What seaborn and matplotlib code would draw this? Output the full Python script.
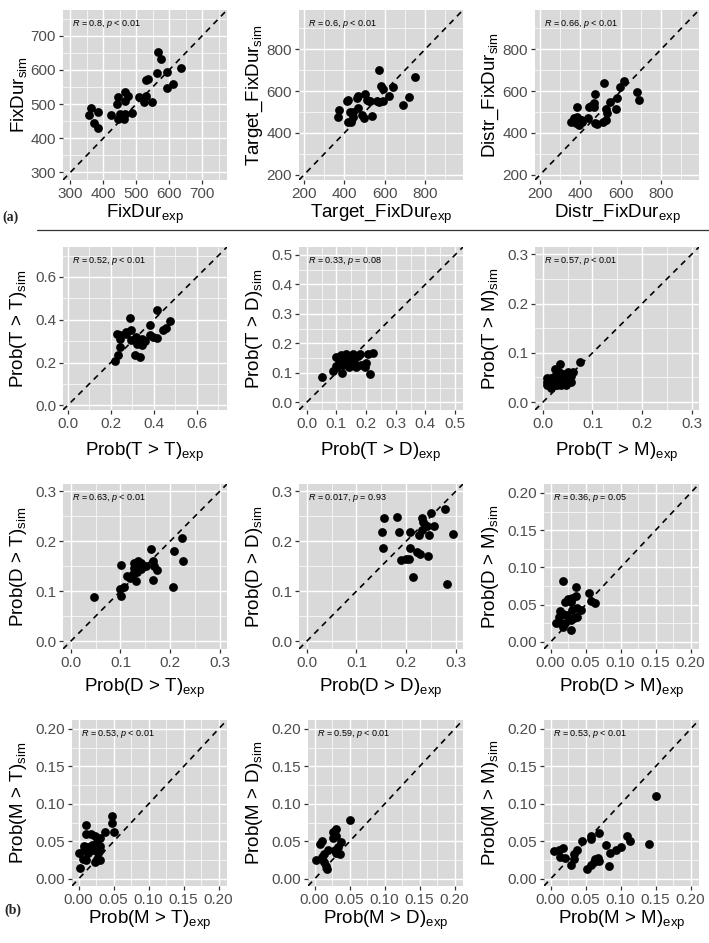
import numpy as np
import pandas as pd
import matplotlib
matplotlib.use("Agg")
import matplotlib.pyplot as plt
import seaborn as sns
from matplotlib.lines import Line2D
from matplotlib.ticker import MultipleLocator, FormatStrFormatter

# --- data (exp on x, sim on y) ---
fixdur_exp = [566, 574, 562, 594, 635, 594, 610, 530, 536, 548, 530, 507, 524, 466, 476,
              446, 443, 466, 422, 451, 487, 466, 463, 446, 362, 356, 384, 372, 384, 458]
fixdur_sim = [653, 631, 592, 595, 605, 547, 558, 571, 573, 505, 525, 520, 505, 534, 525,
              520, 499, 510, 469, 472, 473, 471, 457, 455, 489, 467, 476, 445, 430, 462]

target_exp = [572, 749, 581, 589, 641, 623, 718, 692, 500, 461, 469, 418, 414, 512, 520,
              529, 563, 589, 574, 469, 371, 366, 426, 443, 486, 495, 443, 538, 418, 435]
target_sim = [703, 666, 623, 612, 618, 578, 572, 535, 586, 567, 575, 559, 555, 559, 551,
              551, 551, 555, 546, 519, 510, 478, 502, 498, 486, 473, 478, 482, 451, 454]

distr_exp = [615, 598, 683, 691, 515, 474, 581, 546, 578, 529, 533, 526, 512, 474, 481,
             469, 451, 443, 466, 438, 401, 381, 355, 376, 389, 401, 367, 384, 393, 410]
distr_sim = [647, 620, 596, 556, 639, 588, 567, 548, 515, 515, 494, 462, 454, 446, 441,
             543, 531, 522, 523, 470, 462, 522, 454, 446, 457, 462, 470, 478, 438, 450]

tt_exp = [0.413, 0.288, 0.475, 0.382, 0.455, 0.444, 0.229, 0.242, 0.273, 0.296, 0.319, 0.343,
          0.397, 0.413, 0.382, 0.358, 0.335, 0.346, 0.320, 0.242, 0.296, 0.245, 0.312, 0.335,
          0.234, 0.218, 0.270]
tt_sim = [0.446, 0.408, 0.392, 0.377, 0.363, 0.351, 0.335, 0.328, 0.343, 0.351, 0.320, 0.309,
          0.320, 0.315, 0.328, 0.300, 0.289, 0.282, 0.285, 0.309, 0.305, 0.274, 0.235, 0.228,
          0.235, 0.208, 0.335]

td_exp = [0.053, 0.089, 0.119, 0.098, 0.115, 0.121, 0.132, 0.144, 0.155, 0.172, 0.180, 0.110,
          0.121, 0.138, 0.149, 0.161, 0.141, 0.166, 0.183, 0.195, 0.200, 0.206, 0.225, 0.212,
          0.098, 0.127]
td_sim = [0.085, 0.106, 0.101, 0.153, 0.161, 0.148, 0.164, 0.158, 0.164, 0.156, 0.164, 0.142,
          0.126, 0.131, 0.142, 0.137, 0.120, 0.120, 0.126, 0.120, 0.134, 0.164, 0.168, 0.096,
          0.123, 0.139]

tm_exp = [0.074, 0.034, 0.024, 0.009, 0.017, 0.024, 0.034, 0.040, 0.051, 0.061, 0.057, 0.051,
          0.046, 0.057, 0.030, 0.040, 0.009, 0.017, 0.024, 0.009, 0.017, 0.029, 0.037, 0.047,
          0.032, 0.020]
tm_sim = [0.082, 0.078, 0.068, 0.049, 0.048, 0.053, 0.051, 0.058, 0.061, 0.062, 0.053, 0.048,
          0.043, 0.040, 0.041, 0.038, 0.035, 0.032, 0.035, 0.041, 0.028, 0.034, 0.035, 0.034,
          0.062, 0.041]

dt_exp = [0.047, 0.101, 0.099, 0.108, 0.102, 0.113, 0.120, 0.125, 0.131, 0.134, 0.128, 0.136,
          0.142, 0.152, 0.162, 0.165, 0.167, 0.174, 0.165, 0.206, 0.209, 0.224, 0.227, 0.142,
          0.127]
dt_sim = [0.089, 0.091, 0.104, 0.109, 0.152, 0.131, 0.127, 0.135, 0.121, 0.139, 0.157, 0.160,
          0.157, 0.150, 0.184, 0.160, 0.150, 0.142, 0.122, 0.109, 0.181, 0.206, 0.160, 0.144,
          0.147]

dd_exp = [0.155, 0.181, 0.152, 0.185, 0.153, 0.208, 0.189, 0.199, 0.206, 0.209, 0.223, 0.229,
          0.244, 0.214, 0.233, 0.251, 0.278, 0.234, 0.238, 0.243, 0.233, 0.256, 0.246, 0.295,
          0.283, 0.226]
dd_sim = [0.246, 0.249, 0.218, 0.218, 0.187, 0.219, 0.162, 0.164, 0.164, 0.187, 0.179, 0.175,
          0.171, 0.128, 0.246, 0.257, 0.264, 0.239, 0.233, 0.231, 0.222, 0.231, 0.213, 0.215,
          0.114, 0.213]

dm_exp = [0.018, 0.036, 0.055, 0.057, 0.064, 0.036, 0.031, 0.025, 0.020, 0.029, 0.038, 0.044,
          0.031, 0.013, 0.017, 0.012, 0.024, 0.029, 0.038, 0.007, 0.014, 0.021, 0.018, 0.029,
          0.033]
dm_sim = [0.082, 0.074, 0.066, 0.055, 0.052, 0.062, 0.059, 0.057, 0.054, 0.054, 0.046, 0.043,
          0.043, 0.041, 0.037, 0.034, 0.036, 0.030, 0.033, 0.026, 0.026, 0.025, 0.020, 0.016,
          0.032]

mt_exp = [0.048, 0.048, 0.050, 0.037, 0.010, 0.010, 0.017, 0.024, 0.030, 0.026, 0.030, 0.007,
          0.014, 0.019, 0.000, 0.007, 0.013, 0.020, 0.028, 0.031, 0.006, 0.011, 0.024, 0.030,
          0.002, 0.026]
mt_sim = [0.084, 0.075, 0.063, 0.062, 0.072, 0.060, 0.060, 0.057, 0.054, 0.049, 0.044, 0.044,
          0.043, 0.045, 0.035, 0.038, 0.035, 0.038, 0.035, 0.038, 0.026, 0.025, 0.023, 0.025,
          0.014, 0.026]

md_exp = [0.050, 0.030, 0.026, 0.031, 0.026, 0.037, 0.011, 0.008, 0.029, 0.036, 0.019, 0.014,
          0.010, 0.002, 0.013, 0.016, 0.017, 0.031, 0.011, 0.033]
md_sim = [0.079, 0.066, 0.062, 0.057, 0.055, 0.049, 0.051, 0.046, 0.038, 0.033, 0.039, 0.033,
          0.029, 0.025, 0.022, 0.017, 0.013, 0.035, 0.027, 0.042]

mm_exp = [0.150, 0.141, 0.109, 0.114, 0.100, 0.093, 0.085, 0.079, 0.083, 0.069, 0.057, 0.057,
          0.045, 0.037, 0.033, 0.034, 0.029, 0.005, 0.012, 0.017, 0.014, 0.020, 0.052, 0.058,
          0.064, 0.067, 0.062, 0.069]
mm_sim = [0.110, 0.047, 0.057, 0.050, 0.042, 0.038, 0.034, 0.045, 0.017, 0.061, 0.057, 0.053,
          0.050, 0.039, 0.033, 0.027, 0.019, 0.037, 0.038, 0.041, 0.029, 0.028, 0.013, 0.018,
          0.027, 0.028, 0.022, 0.024]

names = ["FixDur", "Target_FixDur", "Distr_FixDur",
         "Prob(T > T)", "Prob(T > D)", "Prob(T > M)",
         "Prob(D > T)", "Prob(D > D)", "Prob(D > M)",
         "Prob(M > T)", "Prob(M > D)", "Prob(M > M)"]
exp_vals = [fixdur_exp, target_exp, distr_exp, tt_exp, td_exp, tm_exp,
            dt_exp, dd_exp, dm_exp, mt_exp, md_exp, mm_exp]
sim_vals = [fixdur_sim, target_sim, distr_sim, tt_sim, td_sim, tm_sim,
            dt_sim, dd_sim, dm_sim, mt_sim, md_sim, mm_sim]
r_vals = ["0.8", "0.6", "0.66", "0.52", "0.33", "0.57",
          "0.63", "0.017", "0.36", "0.53", "0.59", "0.53"]
p_vals = ["< 0.01", "< 0.01", "< 0.01", "< 0.01", "= 0.08", "< 0.01",
          "< 0.01", "= 0.93", "= 0.05", "< 0.01", "< 0.01", "< 0.01"]

# axis ranges, major step, tick format
limits = [(278, 775), (175, 988), (175, 988),
          (-0.022, 0.74), (-0.026, 0.527), (-0.016, 0.315),
          (-0.016, 0.315), (-0.016, 0.315), (-0.0095, 0.212),
          (-0.0095, 0.212), (-0.0095, 0.212), (-0.0095, 0.212)]
steps = [100, 200, 200, 0.2, 0.1, 0.1, 0.1, 0.1, 0.05, 0.05, 0.05, 0.05]
fmts = ["%d", "%d", "%d", "%.1f", "%.1f", "%.1f", "%.1f", "%.1f", "%.2f", "%.2f", "%.2f", "%.2f"]

sns.set_theme(style="darkgrid")
plt.rcParams["font.family"] = ["Liberation Sans", "DejaVu Sans"]
plt.rcParams["mathtext.fontset"] = "custom"
plt.rcParams["mathtext.rm"] = "Liberation Sans"
plt.rcParams["mathtext.it"] = "Liberation Sans:italic"

W, H = 709, 943
fig = plt.figure(figsize=(W / 100, H / 100), dpi=100)
fig.patch.set_facecolor("white")

row_top = [10, 247, 484, 720]
row_h = [170, 163, 165, 166]
col_left = [63, 299, 535]
col_w = 164
xlab_top = [203, 441, 677, 909]

for i, name in enumerate(names):
    r, c = divmod(i, 3)
    # panels with two-decimal ticks have wider labels, so the panel starts further right
    shift = 9 if fmts[i] == "%.2f" else 0
    top, h = row_top[r], row_h[r]
    left, w = col_left[c] + shift, col_w - shift
    ax = fig.add_axes([left / W, 1 - (top + h) / H, w / W, h / H])
    ax.set_facecolor("#D9D9D9")
    for s in ax.spines.values():
        s.set_visible(False)

    lo, hi = limits[i]
    ax.set_xlim(lo, hi)
    ax.set_ylim(lo, hi)
    for axis in (ax.xaxis, ax.yaxis):
        axis.set_major_locator(MultipleLocator(steps[i]))
        axis.set_minor_locator(MultipleLocator(steps[i] / 2))
        axis.set_major_formatter(FormatStrFormatter(fmts[i]))
    ax.grid(which="major", color="white", lw=1.0)
    ax.grid(which="minor", color="white", lw=0.5)
    ax.set_axisbelow(True)
    ax.tick_params(which="major", length=3, width=0.9, color="#333333",
                   labelsize=11, labelcolor="#4D4D4D", pad=2, left=True, bottom=True)
    ax.tick_params(which="minor", length=0)

    ax.axline((0, 0), slope=1, color="black", lw=1.2, ls=(0, (3.5, 3)), zorder=2)
    df = pd.DataFrame({"exp": exp_vals[i], "sim": sim_vals[i]})
    sns.scatterplot(data=df, x="exp", y="sim", ax=ax, color="black", s=40,
                    linewidth=0, zorder=3)

    ax.set_xlabel(name + r"$_{\mathregular{exp}}$", fontsize=13.5, color="black", va="top")
    ax.set_ylabel(name + r"$_{\mathregular{sim}}$", fontsize=13.5, color="black")
    ax.xaxis.set_label_coords(0.5, -(xlab_top[r] - (top + h)) / h)
    ax.yaxis.set_label_coords(-(34 + shift) / w, 0.5)

    ax.text(9 / w, 1 - 14 / h, r"$R$ = " + r_vals[i] + ", $p$ " + p_vals[i],
            transform=ax.transAxes, fontsize=6.5, va="center", ha="left", color="black")

fig.add_artist(Line2D([37 / W, 1.0], [1 - 230 / H, 1 - 230 / H], color="#333333", lw=0.9))
fig.text(2 / W, 1 - 217 / H, "(a)", fontfamily="Liberation Serif", fontweight="bold",
         fontsize=10, va="center", ha="left")
fig.text(4 / W, 1 - 910 / H, "(b)", fontfamily="Liberation Serif", fontweight="bold",
         fontsize=10, va="center", ha="left")

fig.savefig("out.png", dpi=100)
